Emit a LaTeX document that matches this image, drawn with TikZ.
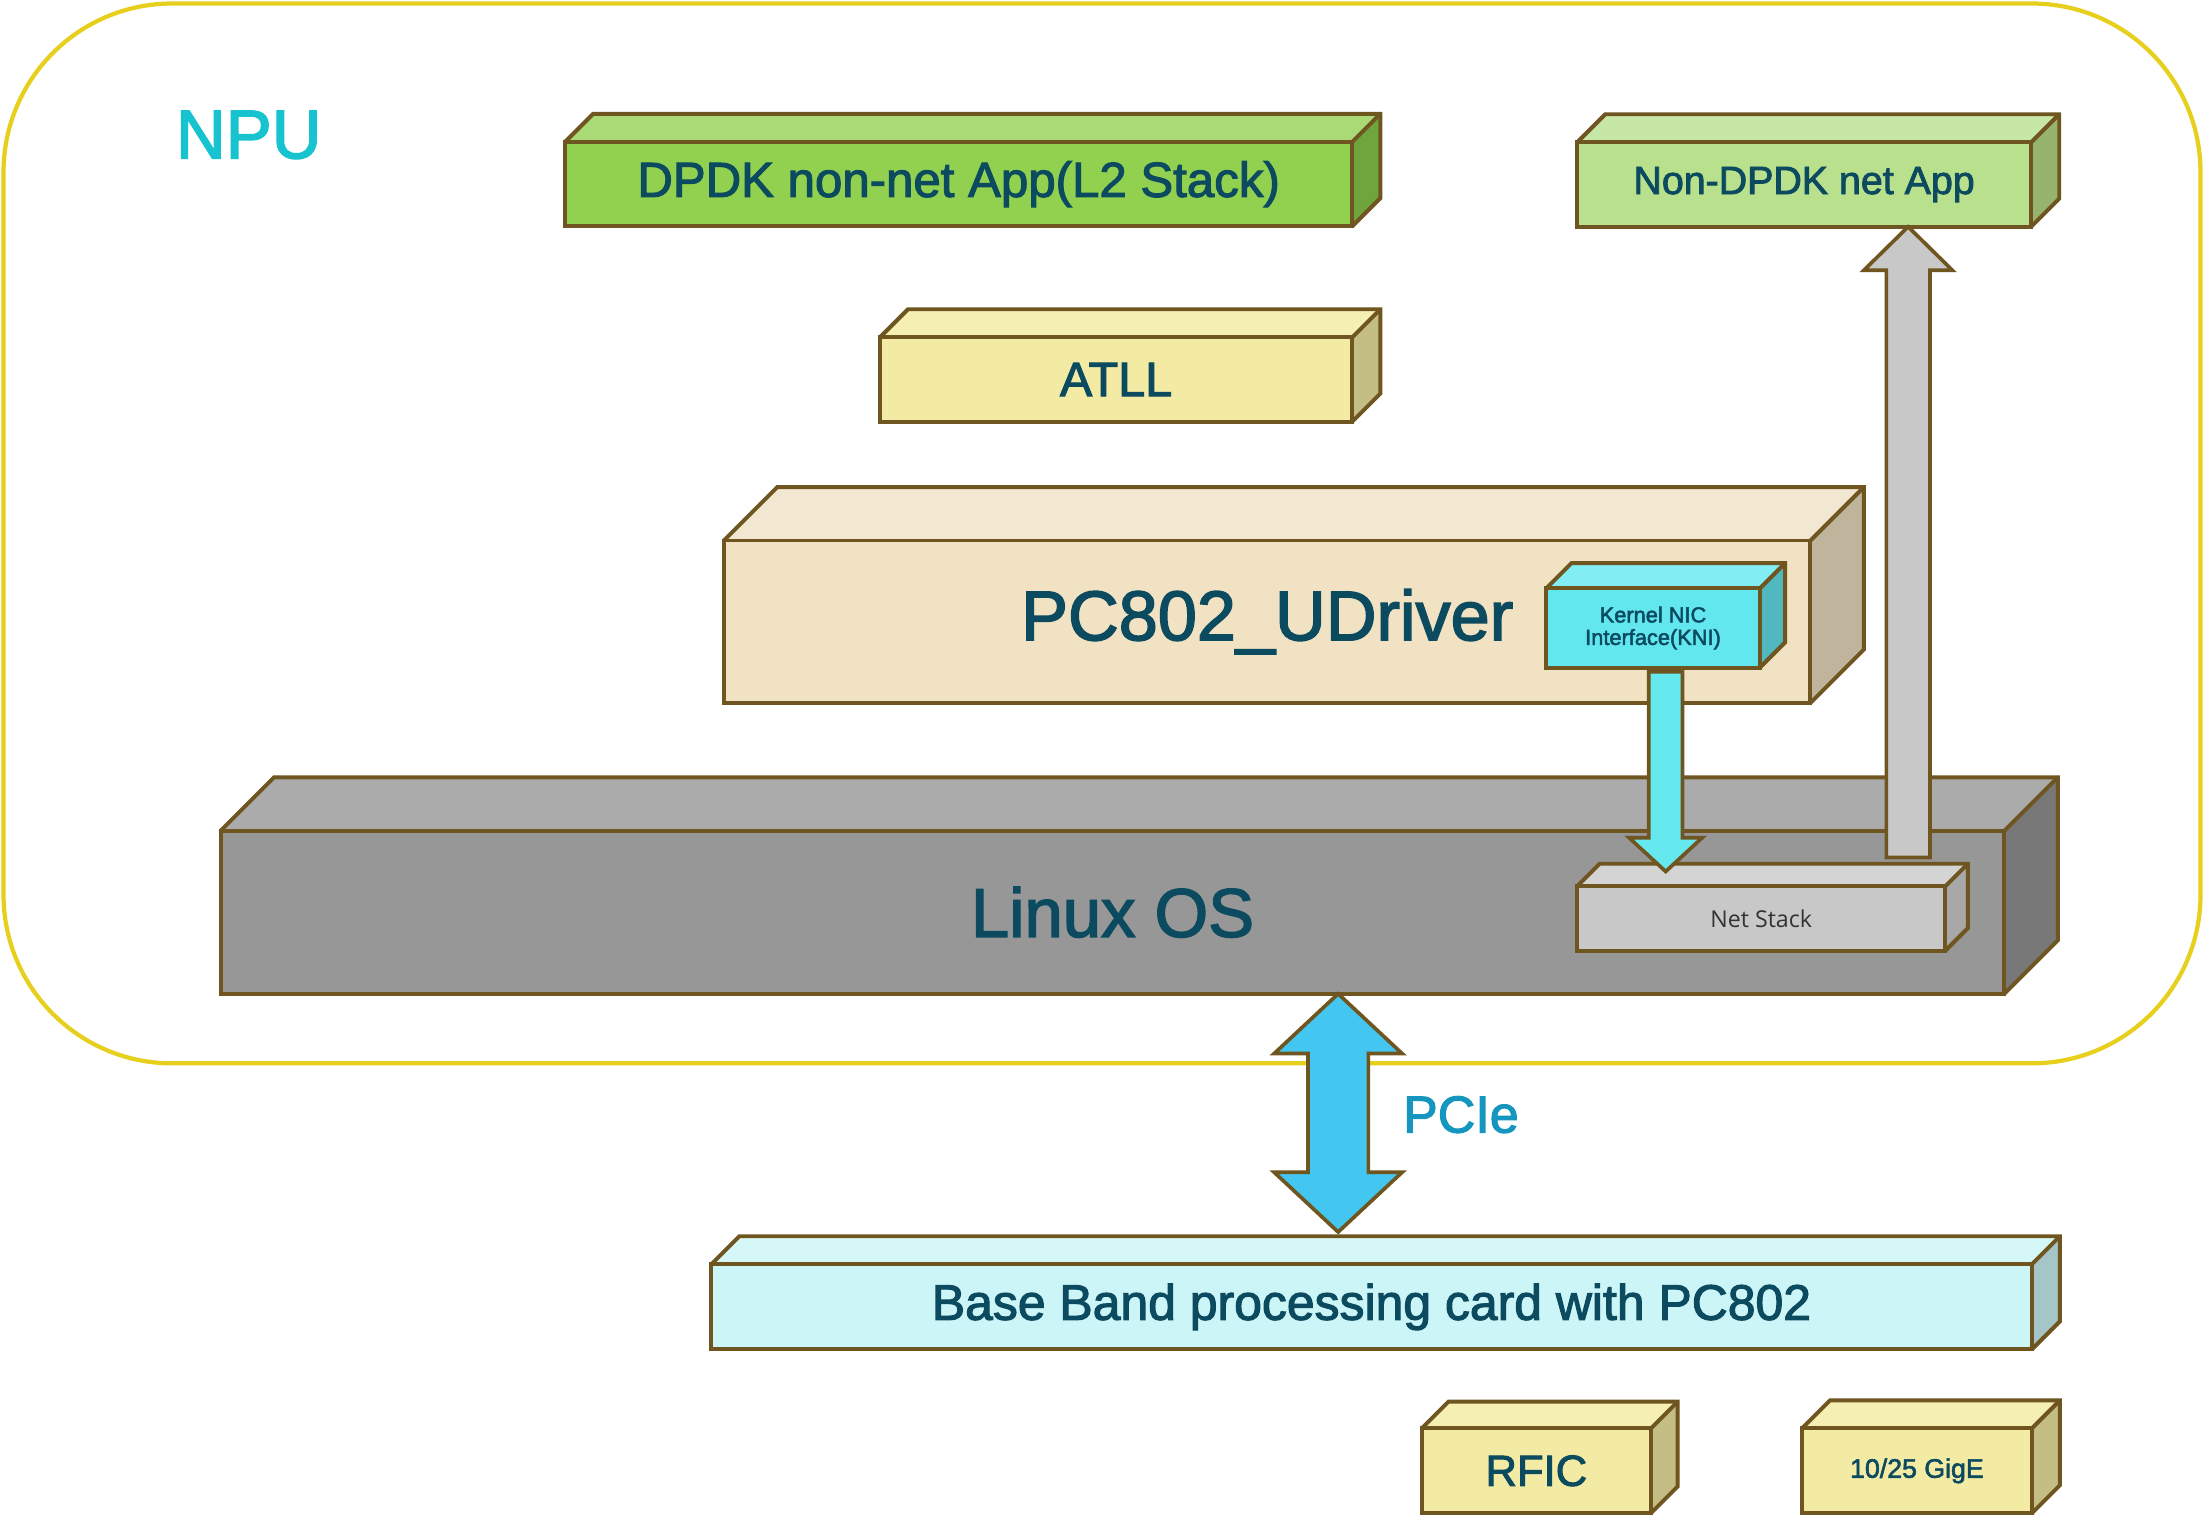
\documentclass[tikz,border=0pt]{standalone}
\usepackage{fontspec}
\setmainfont{Liberation Sans}[FakeBold=2.2]
\newfontfamily\netfont{Open Sans}
\usetikzlibrary{calc}
\definecolor{brn}{HTML}{6F5520}
\definecolor{txt}{HTML}{0B4A5F}
\definecolor{ylw}{HTML}{E6CF1D}
\definecolor{npuc}{HTML}{17C3CF}
\definecolor{pciec}{HTML}{1596BE}
\definecolor{dpdkF}{HTML}{92D050}\definecolor{dpdkT}{HTML}{A9DA75}\definecolor{dpdkS}{HTML}{70A43C}
\definecolor{ndF}{HTML}{B9E08C}\definecolor{ndT}{HTML}{C6E7A5}\definecolor{ndS}{HTML}{97B46E}
\definecolor{yeF}{HTML}{F3EBA4}\definecolor{yeT}{HTML}{F5EFB3}\definecolor{yeS}{HTML}{C4BE84}
\definecolor{pcF}{HTML}{F0E2C2}\definecolor{pcT}{HTML}{F2E7D0}\definecolor{pcS}{HTML}{C0B59C}
\definecolor{knF}{HTML}{62E7EE}\definecolor{knT}{HTML}{82EEF4}\definecolor{knS}{HTML}{4FB9BF}
\definecolor{lxF}{HTML}{979797}\definecolor{lxT}{HTML}{ABABAB}\definecolor{lxS}{HTML}{787878}
\definecolor{nsF}{HTML}{C8C8C8}\definecolor{nsT}{HTML}{D4D4D4}\definecolor{nsS}{HTML}{A8A8A8}
\definecolor{bbF}{HTML}{CCF5F8}\definecolor{bbT}{HTML}{D5F7F8}\definecolor{bbS}{HTML}{A5C5C6}
\definecolor{arC}{HTML}{66E8EF}\definecolor{arG}{HTML}{C8C8C8}\definecolor{arP}{HTML}{43C6F0}
\tikzset{
  edge/.style={draw=brn, line width=2.8pt, line join=miter},
  face/.style={rectangle, edge, outer sep=0pt, inner sep=0pt, text=txt, align=center},
  blockarrow/.style={draw=brn, line width=2.6pt, line join=miter},
}
\newcommand\cubefaces[4]{%
  \fill[#3] (#1.north west) -- ++(#2,-#2) -- ($(#1.north east)+(#2,-#2)$) -- (#1.north east) -- cycle;
  \fill[#4] (#1.north east) -- ++(#2,-#2) -- ($(#1.south east)+(#2,-#2)$) -- (#1.south east) -- cycle;
  \draw[edge] (#1.north west) -- ++(#2,-#2) -- ($(#1.north east)+(#2,-#2)$) -- ($(#1.south east)+(#2,-#2)$) -- (#1.south east);
  \draw[edge] (#1.north east) -- ++(#2,-#2);
  \draw[edge] (#1.north west) rectangle (#1.south east);
}
\begin{document}
\begin{tikzpicture}[x=1pt,y=-1pt]
\useasboundingbox (0,0) rectangle (1568,1086);
% NPU frame
\draw[draw=ylw, line width=3pt, rounded corners=120pt] (2.5,2.5) rectangle (1565.5,756.5);
\node[text=npuc, font=\fontsize{49}{55}\selectfont] (npu) at (177,96) {NPU};

% upper boxes
\node[face, fill=dpdkF, minimum width=560, minimum height=60, font=\fontsize{35}{40}\selectfont] (dpdk) at (682,131) {DPDK non-net App(L2 Stack)};
\cubefaces{dpdk}{20}{dpdkT}{dpdkS}
\node[face, fill=ndF, minimum width=323, minimum height=60, font=\fontsize{28}{32}\selectfont] (nond) at (1283.5,131.3) {Non-DPDK net App};
\cubefaces{nond}{20}{ndT}{ndS}
\node[face, fill=yeF, minimum width=336, minimum height=60, font=\fontsize{34.5}{40}\selectfont] (atll) at (794,270) {ATLL};
\cubefaces{atll}{20}{yeT}{yeS}

% PC802 UDriver
\node[face, fill=pcF, minimum width=773, minimum height=115.5, font=\fontsize{50}{56}\selectfont] (pc) at (901.5,442.3) {PC802\_UDriver};
\cubefaces{pc}{38}{pcT}{pcS}
\node[face, fill=knF, minimum width=152, minimum height=56.4, font=\fontsize{15.5}{16}\selectfont] (kni) at (1176,446.8) {Kernel NIC\\Interface(KNI)};
\cubefaces{kni}{18}{knT}{knS}

% Linux OS
\node[face, fill=lxF, minimum width=1269, minimum height=116, font=\fontsize{49}{55}\selectfont] (linux) at (791.5,649) {Linux OS};
\cubefaces{linux}{38}{lxT}{lxS}
\node[face, fill=nsF, minimum width=262, minimum height=45.8, text=black!80, font=\netfont\fontsize{16.5}{18}\selectfont] (net) at (1253,653.4) {Net Stack};
\cubefaces{net}{16}{nsT}{nsS}

% KNI -> Net Stack
\coordinate (ks) at ($(kni.south)+(9,3)$);
\coordinate (nt) at ($(net.north)+(0,-10.5)$);
\coordinate (ctip) at (ks |- nt);
\draw[blockarrow, fill=arC] ($(ks)+(-12,0)$) -- ($(ks)+(12,0)$) -- ($(ctip)+(12,-24)$) -- ($(ctip)+(26,-24)$) -- (ctip) -- ($(ctip)+(-26,-24)$) -- ($(ctip)+(-12,-24)$) -- cycle;

% Net Stack -> Non-DPDK net App
\coordinate (gs) at ($(net.north east)+(-26.5,-20.5)$);
\coordinate (gtip) at (gs |- nond.south);
\draw[blockarrow, fill=arG] ($(gs)+(-15.5,0)$) -- ($(gs)+(15.5,0)$) -- ($(gtip)+(15.5,31)$) -- ($(gtip)+(31.5,31)$) -- (gtip) -- ($(gtip)+(-31.5,31)$) -- ($(gtip)+(-15.5,31)$) -- cycle;

% Base band card
\node[face, fill=bbF, minimum width=939.5, minimum height=60.5, font=\fontsize{35.5}{40}\selectfont] (bb) at (975.75,929.75) {Base Band processing card with PC802};
\cubefaces{bb}{20}{bbT}{bbS}

% PCIe double arrow
\coordinate (pt) at ($(linux.south)+(160.5,0)$);
\coordinate (pb) at ($(pt |- bb.north)+(0,-23)$);
\draw[blockarrow, fill=arP] (pt) -- ($(pt)+(45.5,42.5)$) -- ($(pt)+(21.5,42.5)$) -- ($(pb)+(21.5,-42.5)$) -- ($(pb)+(45.5,-42.5)$) -- (pb) -- ($(pb)+(-45.5,-42.5)$) -- ($(pb)+(-21.5,-42.5)$) -- ($(pt)+(-21.5,42.5)$) -- ($(pt)+(-45.5,42.5)$) -- cycle;
\node[text=pciec, font=\fontsize{37}{42}\selectfont, anchor=west, inner sep=0pt] (pcie) at (998,793) {PCIe};

% RFIC and GigE
\node[face, fill=yeF, minimum width=163, minimum height=60.4, font=\fontsize{31}{36}\selectfont] (rfic) at (1093,1046.4) {RFIC};
\cubefaces{rfic}{19}{yeT}{yeS}
\node[face, fill=yeF, minimum width=163.5, minimum height=60.4, font=\fontsize{19}{22}\selectfont] (gige) at (1363.75,1046.4) {10/25 GigE};
\cubefaces{gige}{20}{yeT}{yeS}
\end{tikzpicture}
\end{document}
